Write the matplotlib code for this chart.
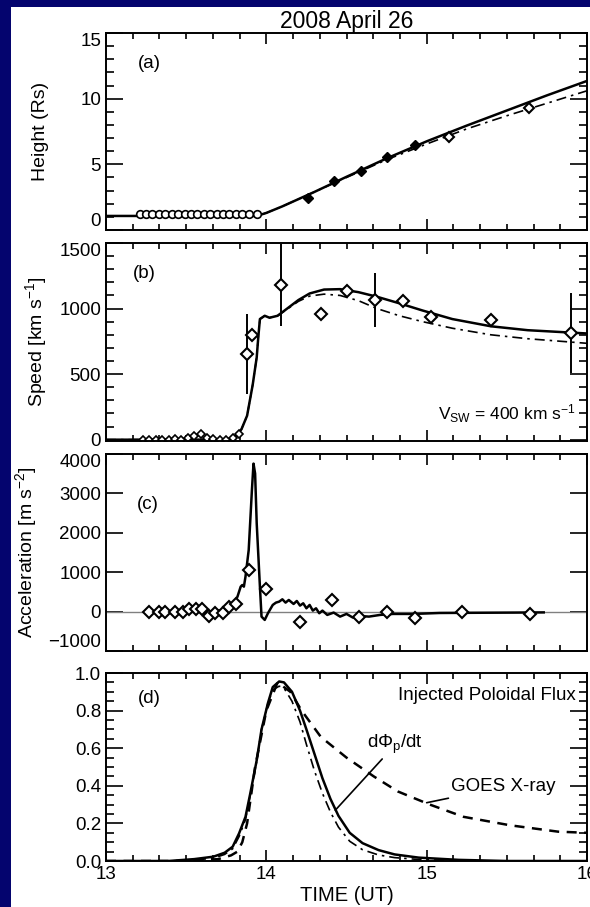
import matplotlib
matplotlib.use('Agg')
import matplotlib.pyplot as plt
from matplotlib.ticker import MultipleLocator, FormatStrFormatter
from matplotlib.patches import Rectangle

plt.rcParams['font.family'] = ['Liberation Sans', 'DejaVu Sans']
plt.rcParams['mathtext.fontset'] = 'custom'
plt.rcParams['mathtext.rm'] = 'Liberation Sans'
plt.rcParams['mathtext.it'] = 'Liberation Sans'

# ---- panel (a): height ----
euvi_t = [13.21, 13.25, 13.29, 13.33, 13.37, 13.41, 13.45, 13.49, 13.53, 13.57,
          13.61, 13.65, 13.69, 13.73, 13.77, 13.81, 13.85, 13.89, 13.94]
euvi_h = [1.2, 1.2, 1.2, 1.2, 1.2, 1.2, 1.2, 1.2, 1.2, 1.2,
          1.2, 1.2, 1.2, 1.2, 1.2, 1.2, 1.2, 1.2, 1.25]
cor1_t = [14.26, 14.42, 14.59, 14.75, 14.93]
cor1_h = [2.45, 3.75, 4.5, 5.55, 6.45]
cor2_t = [15.14, 15.64]
cor2_h = [7.05, 9.3]

ht_t = [13.0, 13.94, 14.0, 14.1, 14.2, 14.3, 14.5, 14.75, 15.0, 15.25, 15.5, 15.75, 16.0]
ht_solid = [1.07, 1.07, 1.3, 1.8, 2.35, 2.9, 4.05, 5.45, 6.75, 7.95, 9.1, 10.25, 11.35]
ht_dashdot = [1.07, 1.07, 1.3, 1.8, 2.35, 2.9, 4.0, 5.35, 6.55, 7.7, 8.7, 9.65, 10.6]

# ---- panel (b): speed ----
sp_t = [13.0, 13.75, 13.80, 13.845, 13.88, 13.915, 13.94, 13.95, 13.96, 13.99, 14.02,
        14.07, 14.13, 14.20, 14.27, 14.36, 14.46, 14.575, 14.69, 14.83, 14.975, 15.16,
        15.40, 15.63, 16.0]
sp_solid = [0, 0, 13, 80, 183, 419, 628, 785, 920, 945, 930,
            945, 1000, 1065, 1115, 1145, 1148, 1125, 1090, 1040, 985, 920,
            865, 835, 810]
sp_dashdot = [0, 0, 13, 80, 183, 419, 628, 785, 920, 945, 930,
              945, 995, 1055, 1095, 1110, 1100, 1060, 1000, 945, 900, 850,
              800, 770, 735]
pre_t = [13.23, 13.27, 13.31, 13.35, 13.39, 13.43, 13.47, 13.51, 13.55,
         13.59, 13.63, 13.67, 13.71, 13.75, 13.79, 13.83]
pre_v = [0, 0, 0, 0, 0, 5, 0, 15, 25, 40, 15, 5, 0, 0, 10, 40]
sp_pts_t = [13.88, 13.91, 14.09, 14.34, 14.50, 14.68, 14.85, 15.03, 15.40, 15.90]
sp_pts_v = [650, 800, 1180, 955, 1135, 1065, 1055, 935, 915, 815]
sp_err = [305, 0, 310, 0, 0, 205, 0, 0, 0, 305]

# ---- panel (c): acceleration ----
acc_t = [13.25, 13.46, 13.67, 13.73, 13.77, 13.80, 13.82, 13.84, 13.85, 13.86, 13.87,
         13.89, 13.91, 13.92, 13.93, 13.94, 13.96, 13.97, 13.99, 14.01, 14.04, 14.06,
         14.08, 14.10, 14.12, 14.14, 14.17, 14.19, 14.21, 14.23, 14.25, 14.27, 14.29,
         14.31, 14.33, 14.35, 14.38, 14.42, 14.46, 14.50, 14.54, 14.58, 14.64, 14.71,
         14.79, 14.92, 15.08, 15.30, 15.55, 15.73]
acc_v = [0, 0, 0, 42, 127, 211, 380, 633, 675, 633, 886,
         1561, 3080, 3756, 3503, 2237, 633, -127, -211, -42, 169, 228,
         253, 312, 228, 295, 194, 270, 152, 211, 84, 169, 25,
         84, -42, 25, -84, -25, -127, -59, -152, -110, -127, -84,
         -59, -59, -35, -30, -25, -20]
acc_pts_t = [13.27, 13.33, 13.37, 13.43, 13.48, 13.52, 13.56, 13.60, 13.64, 13.68,
             13.73, 13.77, 13.81, 13.89, 14.00, 14.21, 14.41, 14.58, 14.75, 14.93,
             15.22, 15.645]
acc_pts_v = [0, 0, 0, 0, 0, 68, 68, 68, -110, -42,
             -42, 127, 194, 1055, 565, -253, 295, -127, 0, -169,
             -17, -59]

# ---- panel (d): normalised flux rate and GOES ----
flux_t = [13.0, 13.39, 13.55, 13.67, 13.74, 13.79, 13.83, 13.87, 13.90, 13.94, 13.97,
          14.01, 14.04, 14.08, 14.11, 14.16, 14.21, 14.25, 14.30, 14.35, 14.40, 14.45,
          14.52, 14.60, 14.70, 14.80, 14.95, 15.2, 15.5, 16.0]
flux_solid = [0.0, 0.0, 0.01, 0.023, 0.044, 0.076, 0.147, 0.235, 0.36, 0.536, 0.70,
              0.84, 0.925, 0.955, 0.95, 0.90, 0.80, 0.70, 0.57, 0.44, 0.33, 0.24,
              0.15, 0.095, 0.058, 0.035, 0.018, 0.006, 0.0, 0.0]
flux_dashdot = [0.0, 0.0, 0.005, 0.015, 0.035, 0.065, 0.13, 0.22, 0.35, 0.53, 0.70,
                0.84, 0.91, 0.93, 0.92, 0.85, 0.74, 0.62, 0.48, 0.36, 0.26, 0.18,
                0.105, 0.06, 0.032, 0.018, 0.008, 0.002, 0.0, 0.0]
goes_t = [13.0, 13.5, 13.70, 13.78, 13.82, 13.85, 13.88, 13.93, 14.0, 14.07, 14.15,
          14.22, 14.34, 14.5, 14.67, 14.82, 15.02, 15.23, 15.52, 15.82, 16.0]
goes_v = [0.0, 0.0, 0.01, 0.03, 0.05, 0.1, 0.2, 0.5, 0.8, 0.95, 0.9,
          0.8, 0.66, 0.55, 0.45, 0.37, 0.30, 0.235, 0.19, 0.156, 0.15]

hour_ticks = [13, 14, 15, 16]
hour_labels = ['13', '14', '15', '16']

navy = '#04046e'
fig = plt.figure(figsize=(5.9, 9.07), dpi=100, facecolor='white')
# navy frame on the left and top of the slide
fig.patches.append(Rectangle((0, 0), 11 / 590, 1, transform=fig.transFigure,
                             facecolor=navy, edgecolor='none', zorder=-10))
fig.patches.append(Rectangle((0, 1 - 7 / 907), 1, 7 / 907, transform=fig.transFigure,
                             facecolor=navy, edgecolor='none', zorder=-10))

W, H = 590.0, 907.0
left, right = 106, 587
tops = [33, 243, 454, 673]
bots = [230, 441, 651, 861]
axes = []
for t, b in zip(tops, bots):
    ax = fig.add_axes([left / W, 1 - b / H, (right - left) / W, (b - t) / H])
    axes.append(ax)

fs = 13.5
for ax in axes:
    ax.set_xlim(13, 16)
    ax.set_xticks(hour_ticks)
    ax.xaxis.set_minor_locator(MultipleLocator(1 / 6))
    ax.tick_params(which='both', direction='in', top=True, right=True, labelsize=fs,
                   width=1.2, color='black')
    ax.tick_params(axis='x', which='major', length=8)
    ax.tick_params(axis='x', which='minor', length=4.5)
    ax.tick_params(axis='y', which='major', length=12)
    ax.tick_params(axis='y', which='minor', length=6)
    for s in ax.spines.values():
        s.set_linewidth(1.4)
for ax in axes[:3]:
    ax.set_xticklabels([])
axes[3].set_xticklabels(hour_labels)

lw = 1.8
dashdot = (0, (6, 3, 1.5, 3))
# (a)
ax = axes[0]
ax.plot(ht_t, ht_solid, color='black', lw=lw)
ax.plot(ht_t, ht_dashdot, color='black', lw=1.2, ls=dashdot)
ax.plot(euvi_t, euvi_h, 'o', mfc='white', mec='black', ms=5.5, mew=1.2)
ax.plot(cor1_t, cor1_h, 'D', mfc='black', mec='black', ms=5.5)
ax.plot(cor2_t, cor2_h, 'D', mfc='white', mec='black', ms=5.5, mew=1.5)
ax.set_ylim(0, 15)
ax.yaxis.set_major_locator(MultipleLocator(5))
ax.yaxis.set_minor_locator(MultipleLocator(1))
ax.set_ylabel('Height (Rs)', fontsize=fs + 0.5)
ax.yaxis.set_label_coords(-0.118, 0.5)
ax.text(13.2, 12.3, '(a)', fontsize=fs)
ax.set_title('2008 April 26', fontsize=16.5, pad=3)

# (b)
ax = axes[1]
ax.plot(sp_t, sp_solid, color='black', lw=lw)
ax.plot(sp_t, sp_dashdot, color='black', lw=1.2, ls=dashdot)
ax.plot(pre_t, pre_v, 'D', mfc='white', mec='black', ms=4.5, mew=1.2)
ax.errorbar(sp_pts_t, sp_pts_v, yerr=sp_err, fmt='D', mfc='white', mec='black',
            ecolor='black', elinewidth=1.4, ms=6, mew=1.5, capsize=0)
ax.set_ylim(-10, 1500)
ax.yaxis.set_major_locator(MultipleLocator(500))
ax.yaxis.set_minor_locator(MultipleLocator(100))
ax.set_ylabel('Speed [km s$^{-1}$]', fontsize=fs + 0.5)
ax.yaxis.set_label_coords(-0.118, 0.5)
ax.text(13.17, 1230, '(b)', fontsize=fs)
ax.text(15.93, 150, 'V$_{\\mathrm{SW}}$ = 400 km s$^{-1}$', fontsize=fs - 1, ha='right')

# (c)
ax = axes[2]
ax.axhline(0, color='gray', lw=1)
ax.plot(acc_t, acc_v, color='black', lw=lw)
ax.plot(acc_pts_t, acc_pts_v, 'D', mfc='white', mec='black', ms=6, mew=1.5)
ax.set_ylim(-1000, 4000)
ax.yaxis.set_major_locator(MultipleLocator(1000))
ax.yaxis.set_minor_locator(MultipleLocator(1000))
ax.set_ylabel('Acceleration [m s$^{-2}$]', fontsize=fs + 0.5)
ax.yaxis.set_label_coords(-0.139, 0.5)
ax.text(13.19, 2600, '(c)', fontsize=fs)

# (d)
ax = axes[3]
ax.plot(flux_t, flux_solid, color='black', lw=lw)
ax.plot(flux_t, flux_dashdot, color='black', lw=1.2, ls=dashdot)
ax.plot(goes_t, goes_v, color='black', lw=1.8, ls=(0, (4, 3)))
ax.set_ylim(0, 1.0)
ax.yaxis.set_major_locator(MultipleLocator(0.2))
ax.yaxis.set_minor_locator(MultipleLocator(0.05))
ax.yaxis.set_major_formatter(FormatStrFormatter('%.1f'))
ax.text(13.2, 0.84, '(d)', fontsize=fs)
ax.text(15.93, 0.855, 'Injected Poloidal Flux', fontsize=fs, ha='right')
ax.annotate('d$\\Phi_{\\mathrm{p}}$/dt', xy=(14.43, 0.27), xytext=(14.63, 0.6),
            fontsize=fs, arrowprops=dict(arrowstyle='-', color='black', lw=1.2,
                                         shrinkA=0, shrinkB=0))
ax.annotate('GOES X-ray', xy=(15.0, 0.31), xytext=(15.15, 0.37),
            fontsize=fs, arrowprops=dict(arrowstyle='-', color='black', lw=1.2,
                                         shrinkA=0, shrinkB=0))
ax.set_xlabel('TIME (UT)', fontsize=fs + 1, labelpad=2)

# keep the end labels of stacked panels inside their own frame
fig.canvas.draw()
for ax in axes[:3]:
    lo, hi = ax.get_ylim()
    for tk in ax.yaxis.get_major_ticks():
        loc = tk.get_loc()
        if abs(loc - hi) < 1e-6 * (hi - lo) + 1e-9:
            tk.label1.set_verticalalignment('top')
        elif ax is not axes[1] and abs(loc - lo) < 1e-6 * (hi - lo) + 1e-9:
            tk.label1.set_verticalalignment('bottom')

fig.savefig('out.png', dpi=100)
